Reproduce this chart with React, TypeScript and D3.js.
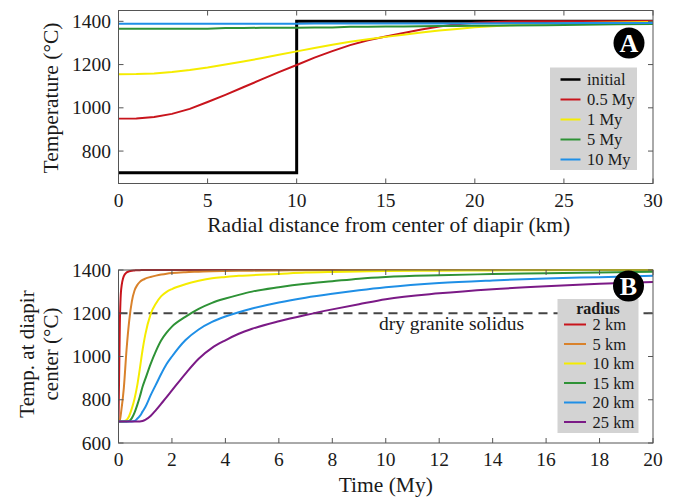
import React from "react";
import * as d3 from "d3";

// ---------- Panel A data ----------
const radiusKm = [0, 1, 2, 3, 4, 5, 6, 7, 8, 9, 10, 11, 12, 13, 14, 15, 16, 17, 18, 19, 20, 22, 24, 26, 28, 30];
const initialR = [0, 10, 10, 30];
const initialT = [700, 700, 1400, 1400];
const temp05My = [950, 951, 958, 972, 995, 1027, 1060, 1095, 1130, 1165, 1198, 1232, 1262, 1290, 1312, 1330, 1346, 1362, 1376, 1386, 1393, 1399, 1400, 1400, 1400, 1401];
const temp1My = [1155, 1156, 1159, 1166, 1175, 1186, 1200, 1214, 1229, 1245, 1261, 1277, 1292, 1305, 1317, 1328, 1338, 1348, 1358, 1365, 1372, 1382, 1388, 1392, 1395, 1397];
const temp5My = [1366, 1366, 1366, 1366, 1366, 1366, 1369, 1369, 1370, 1370, 1370, 1371, 1371, 1375, 1375, 1376, 1376, 1377, 1378, 1378, 1379, 1381, 1382, 1384, 1386, 1388];
const temp10My = [1389, 1389, 1389, 1389, 1389, 1389, 1389, 1389, 1389, 1389, 1389, 1390, 1390, 1390, 1390, 1390, 1390, 1390, 1390, 1390, 1390, 1391, 1391, 1392, 1392, 1392];
const legendA = ["initial", "0.5 My", "1 My", "5 My", "10 My"];
const colorsA = ["#000000", "#c8141c", "#f5ec00", "#2e9236", "#1f8fe6"];
const xTicksA = [0, 5, 10, 15, 20, 25, 30];
const yTicksA = [800, 1000, 1200, 1400];

// ---------- Panel B data ----------
const timeMy = [0, 0.05, 0.1, 0.2, 0.3, 0.4, 0.5, 0.6, 0.7, 0.8, 0.9, 1, 1.2, 1.4, 1.6, 1.8, 2, 2.5, 3, 3.5, 4, 4.5, 5, 6, 7, 8, 9, 10, 12, 14, 16, 18, 20];
const r2km = [700, 1150, 1310, 1372, 1388, 1394, 1397, 1398, 1399, 1399, 1400, 1400, 1400, 1400, 1400, 1400, 1400, 1400, 1400, 1400, 1400, 1400, 1400, 1400, 1400, 1400, 1400, 1400, 1400, 1400, 1400, 1400, 1400];
const r5km = [700, 705, 745, 855, 1030, 1165, 1255, 1305, 1330, 1345, 1354, 1360, 1368, 1374, 1379, 1383, 1386, 1390, 1392, 1394, 1395, 1396, 1397, 1398, 1399, 1399, 1400, 1400, 1400, 1400, 1400, 1400, 1400];
const r10km = [700, 700, 700, 701, 706, 725, 760, 805, 865, 945, 1030, 1100, 1195, 1245, 1279, 1299, 1312, 1334, 1350, 1362, 1368, 1373, 1376, 1382, 1388, 1391, 1393, 1395, 1397, 1398, 1399, 1400, 1400];
const r15km = [700, 700, 700, 700, 700, 702, 715, 740, 775, 815, 860, 895, 965, 1025, 1075, 1110, 1138, 1183, 1220, 1248, 1268, 1285, 1300, 1320, 1336, 1348, 1360, 1368, 1376, 1381, 1385, 1389, 1392];
const r20km = [700, 700, 700, 700, 700, 700, 700, 702, 712, 725, 745, 765, 820, 870, 920, 965, 1000, 1075, 1125, 1160, 1185, 1205, 1222, 1250, 1272, 1290, 1306, 1320, 1340, 1352, 1361, 1367, 1373];
const r25km = [700, 700, 700, 700, 700, 700, 700, 700, 700, 700, 702, 707, 725, 752, 782, 812, 843, 920, 990, 1040, 1075, 1105, 1128, 1163, 1192, 1218, 1242, 1265, 1292, 1311, 1325, 1336, 1344];
const legendB = ["2 km", "5 km", "10 km", "15 km", "20 km", "25 km"];
const colorsB = ["#c8141c", "#d9822b", "#f5ec00", "#2e9236", "#1f8fe6", "#7b1a86"];
const xTicksB = [0, 2, 4, 6, 8, 10, 12, 14, 16, 18, 20];
const yTicksB = [600, 800, 1000, 1200, 1400];
const solidus = 1200;

const FONT = "'Liberation Serif', 'Times New Roman', serif";
const AXIS = "#555";
const TXT = "#1a1a1a";

const L = 118.5, R = 653;

function Frame({ x, y, xTicks, yTicks }: any) {
  const [x0, x1] = x.range();
  const [y0, y1] = y.range(); // y0 bottom, y1 top
  const tl = 5;
  return (
    <g>
      <rect x={x0} y={y1} width={x1 - x0} height={y0 - y1} fill="none" stroke={AXIS} strokeWidth={1} />
      {xTicks.map((t: number) => (
        <g key={"x" + t}>
          <line x1={x(t)} x2={x(t)} y1={y0} y2={y0 - tl} stroke={AXIS} />
          <line x1={x(t)} x2={x(t)} y1={y1} y2={y1 + tl} stroke={AXIS} />
        </g>
      ))}
      {yTicks.map((t: number) => (
        <g key={"y" + t}>
          <line x1={x0} x2={x0 + tl} y1={y(t)} y2={y(t)} stroke={AXIS} />
          <line x1={x1} x2={x1 - tl} y1={y(t)} y2={y(t)} stroke={AXIS} />
        </g>
      ))}
    </g>
  );
}

function TickLabels({ x, y, xTicks, yTicks }: any) {
  const [x0] = x.range();
  const [y0] = y.range();
  return (
    <g fontFamily={FONT} fontSize={19.5} fill={TXT}>
      {xTicks.map((t: number) => (
        <text key={"xl" + t} x={x(t)} y={y0 + 23} textAnchor="middle">{t}</text>
      ))}
      {yTicks.map((t: number) => (
        <text key={"yl" + t} x={x0 - 7.5} y={y(t) + 6.5} textAnchor="end">{t}</text>
      ))}
    </g>
  );
}

function Badge({ cx, cy, letter }: any) {
  return (
    <g>
      <circle cx={cx} cy={cy} r={15.5} fill="#000" />
      <text x={cx} y={cy + 9} textAnchor="middle" fontFamily={FONT} fontWeight="bold" fontSize={26} fill="#fff">{letter}</text>
    </g>
  );
}

export default function App() {
  // Panel A scales
  const xA = d3.scaleLinear().domain([0, 30]).range([L, R]);
  const yA = d3.scaleLinear().domain([650, 1450]).range([183.5, 10.5]);
  // Panel B scales
  const xB = d3.scaleLinear().domain([0, 20]).range([L, R]);
  const yB = d3.scaleLinear().domain([600, 1400]).range([443, 270]);

  const lineA = d3.line<number>().x((_, i) => xA(radiusKm[i])).y((d) => yA(d));
  const lineInit = d3.line<number>().x((_, i) => xA(initialR[i])).y((d) => yA(d));
  const lineB = d3.line<number>().x((_, i) => xB(timeMy[i])).y((d) => yB(d)).curve(d3.curveMonotoneX);

  const seriesA = [temp05My, temp1My, temp5My, temp10My];
  const seriesB = [r2km, r5km, r10km, r15km, r20km, r25km];

  return (
    <div style={{ position: "absolute", left: 0, top: 0 }}>
      <svg width={678} height={497} style={{ display: "block", background: "#fff" }}>
        {/* ---------- Panel A ---------- */}
        <defs>
          <clipPath id="clipA"><rect x={L} y={10.5} width={R - L} height={173} /></clipPath>
          <clipPath id="clipB"><rect x={L} y={268} width={R - L} height={175} /></clipPath>
        </defs>
        <g clipPath="url(#clipA)">
          <path d={lineInit(initialT) || ""} fill="none" stroke={colorsA[0]} strokeWidth={3} />
          {seriesA.map((s, i) => (
            <path key={i} d={lineA(s) || ""} fill="none" stroke={colorsA[i + 1]} strokeWidth={2} />
          ))}
        </g>
        <Frame x={xA} y={yA} xTicks={xTicksA} yTicks={yTicksA} />
        <TickLabels x={xA} y={yA} xTicks={xTicksA} yTicks={yTicksA} />
        <text x={(L + R) / 2 + 3} y={232} textAnchor="middle" fontFamily={FONT} fontSize={21.5} fill={TXT}>
          Radial distance from center of diapir (km)
        </text>
        <text transform="translate(58,98) rotate(-90)" textAnchor="middle" fontFamily={FONT} fontSize={21.5} fill={TXT}>
          Temperature (°C)
        </text>
        <Badge cx={629} cy={43} letter="A" />
        <g>
          <rect x={550} y={67.5} width={87} height={102.5} fill="#d3d3d3" />
          {legendA.map((name, i) => (
            <g key={name}>
              <line x1={560.5} x2={580.5} y1={79.5 + i * 20} y2={79.5 + i * 20} stroke={colorsA[i]} strokeWidth={i === 0 ? 2.5 : 2} />
              <text x={587} y={79.5 + i * 20 + 5.5} fontFamily={FONT} fontSize={16.5} fill={TXT}>{name}</text>
            </g>
          ))}
        </g>

        {/* ---------- Panel B ---------- */}
        <line x1={L} x2={R} y1={yB(solidus)} y2={yB(solidus)} stroke="#444" strokeWidth={2} strokeDasharray="9,6" />
        <g clipPath="url(#clipB)">
          {seriesB.map((s, i) => (
            <path key={i} d={lineB(s) || ""} fill="none" stroke={colorsB[i]} strokeWidth={2} />
          ))}
        </g>
        <Frame x={xB} y={yB} xTicks={xTicksB} yTicks={yTicksB} />
        <TickLabels x={xB} y={yB} xTicks={xTicksB} yTicks={yTicksB} />
        <text x={379} y={329.5} fontFamily={FONT} fontSize={19.5} fill={TXT}>dry granite solidus</text>
        <text x={(L + R) / 2} y={492} textAnchor="middle" fontFamily={FONT} fontSize={21.5} fill={TXT}>Time (My)</text>
        <text transform="translate(34,354) rotate(-90)" textAnchor="middle" fontFamily={FONT} fontSize={21} fill={TXT}>
          Temp. at diapir
        </text>
        <text transform="translate(58,354) rotate(-90)" textAnchor="middle" fontFamily={FONT} fontSize={21} fill={TXT}>
          center (°C)
        </text>
        <g>
          <rect x={557.5} y={299} width={81} height={134} fill="#d3d3d3" />
          <text x={598} y={314} textAnchor="middle" fontFamily={FONT} fontWeight="bold" fontSize={16} fill={TXT}>radius</text>
          {legendB.map((name, i) => (
            <g key={name}>
              <line x1={564} x2={586} y1={324.5 + i * 19.5} y2={324.5 + i * 19.5} stroke={colorsB[i]} strokeWidth={2} />
              <text x={592.5} y={324.5 + i * 19.5 + 5.5} fontFamily={FONT} fontSize={16.5} fill={TXT}>{name}</text>
            </g>
          ))}
        </g>
        <Badge cx={628.5} cy={286} letter="B" />
      </svg>
    </div>
  );
}
